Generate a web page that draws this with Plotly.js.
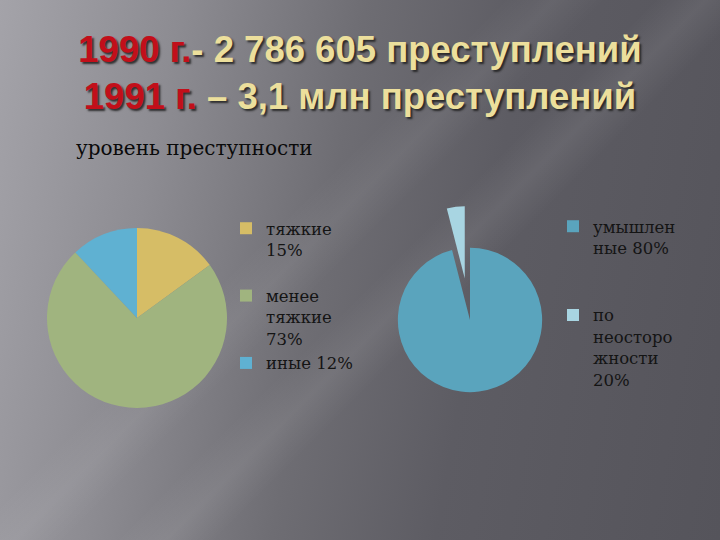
<!DOCTYPE html>
<html>
<head>
<meta charset="utf-8">
<script src="https://cdn.plot.ly/plotly-3.0.1.min.js"></script>
<style>
  html, body { margin: 0; padding: 0; }
  body {
    width: 720px; height: 540px; overflow: hidden;
    background:
      linear-gradient(135deg, rgba(255,255,255,0) 52%, rgba(255,255,255,0.07) 56%, rgba(255,255,255,0) 60%),
      linear-gradient(135deg, rgba(255,255,255,0) 40%, rgba(255,255,255,0.06) 44%, rgba(255,255,255,0) 48%),
      linear-gradient(100deg, #a4a3a9 0%, #8d8c92 22%, #6e6d73 45%, #5d5c63 65%, #55545b 100%);
  }
  #chart { width: 720px; height: 540px; }
</style>
</head>
<body>
<div id="chart"></div>
<script>
// Title lines
const titleYear1 = '1990 г.';
const titleRest1 = '- 2 786 605 преступлений';
const titleYear2 = '1991 г.';
const titleRest2 = ' – 3,1 млн преступлений';
const subtitle = 'уровень преступности';

// Left pie: crime severity
const leftLabels = ['тяжкие<br>15%<br>\u00a0', 'менее<br>тяжкие<br>73%', 'иные 12%'];
const leftValues = [15, 73, 12];

// Right pie: intentional vs negligent (as drawn)
const rightLabels = ['умышлен<br>ные 80%<br>\u00a0<br>\u00a0', 'по<br>неосторо<br>жности<br>20%'];
const rightValues = [96, 4];

const leftColors = ['#d6bd66', '#a0b47f', '#5fb1d2'];
const rightColors = ['#5aa4bd', '#a8d5e2'];

const legendFont = {family: 'DejaVu Serif', size: 16.5, color: '#141414'};

const data = [
  {
    type: 'pie', labels: leftLabels, values: leftValues,
    sort: false, direction: 'clockwise', rotation: 0,
    marker: {colors: leftColors, line: {width: 0}},
    textinfo: 'none', hoverinfo: 'skip',
    domain: {x: [47/720, 227/720], y: [1 - 408/540, 1 - 228/540]},
    legend: 'legend'
  },
  {
    type: 'pie', labels: rightLabels, values: rightValues,
    sort: false, direction: 'clockwise', rotation: 0,
    pull: [0, 0.58],
    marker: {colors: rightColors, line: {width: 0}},
    textinfo: 'none', hoverinfo: 'skip',
    domain: {x: [356/720, 584/720], y: [1 - 434/540, 1 - 206/540]},
    legend: 'legend2'
  }
];

const layout = {
  width: 720, height: 540,
  margin: {l: 0, r: 0, t: 0, b: 0},
  paper_bgcolor: 'rgba(0,0,0,0)',
  plot_bgcolor: 'rgba(0,0,0,0)',
  showlegend: true,
  title: {
    text: "<span style='color:#c20f1a'>" + titleYear1 + "</span>" + titleRest1 +
          "<br><span style='color:#c20f1a'>" + titleYear2 + "</span>" + titleRest2,
    x: 0.5, xanchor: 'center',
    y: 1 - 62/540, yanchor: 'top', yref: 'container',
    font: {family: 'Liberation Sans', size: 36.5, color: '#ecdf9c', weight: 'bold',
           shadow: '2px 2px 2px rgba(30,30,30,0.85)'}
  },
  annotations: [{
    text: subtitle, showarrow: false,
    xref: 'paper', yref: 'paper', x: 74/720, y: 1 - 148/540,
    xanchor: 'left', yanchor: 'middle',
    font: {family: 'DejaVu Serif', size: 20, color: '#0a0a0a'}
  }],
  legend: {
    x: 226/720, y: 1 - 211/540, xanchor: 'left', yanchor: 'top',
    bgcolor: 'rgba(0,0,0,0)', borderwidth: 0,
    font: legendFont, valign: 'top', traceorder: 'normal'
  },
  legend2: {
    x: 553/720, y: 1 - 209/540, xanchor: 'left', yanchor: 'top',
    bgcolor: 'rgba(0,0,0,0)', borderwidth: 0,
    font: legendFont, valign: 'top', traceorder: 'normal'
  }
};

Plotly.newPlot('chart', data, layout, {staticPlot: true, displayModeBar: false});
</script>
</body>
</html>
